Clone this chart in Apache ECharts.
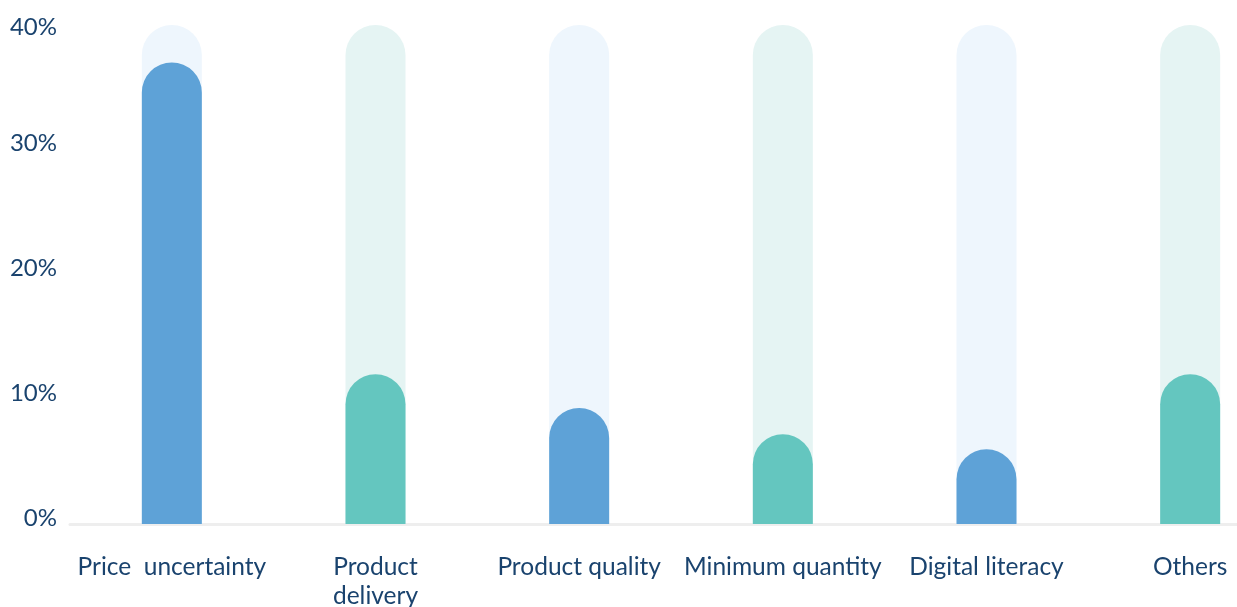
<!DOCTYPE html>
<html>
<head>
<meta charset="utf-8">
<script src="https://cdn.jsdelivr.net/npm/echarts@6/dist/echarts.min.js"></script>
<style>
  html, body { margin: 0; padding: 0; background: #ffffff; }
  #chart { width: 1237px; height: 607px; }
</style>
</head>
<body>
<div id="chart"></div>
<script>
const categories = ['Price  uncertainty', 'Product\ndelivery', 'Product quality', 'Minimum quantity', 'Digital literacy', 'Others'];
const shares = [37, 12, 9.3, 7.2, 6, 12];
const trackValues = [40, 40, 40, 40, 40, 40];
const yTicks = [0, 10, 20, 30, 40];

const barColors = ['#5ea2d7', '#64c6bf'];
const trackColors = ['#eef6fd', '#e5f4f3'];
const textColor = '#1a436e';

const chart = echarts.init(document.getElementById('chart'), null, { renderer: 'canvas' });

chart.setOption({
  animation: false,
  backgroundColor: '#ffffff',
  grid: { left: 70, top: 25, right: -55, bottom: 83, containLabel: false, outerBoundsMode: 'none' },
  xAxis: {
    type: 'category',
    data: categories,
    axisLine: { show: true, lineStyle: { color: '#eeeeee', width: 3 } },
    axisTick: { show: false },
    axisLabel: {
      color: textColor,
      fontFamily: 'Lato',
      fontSize: 24.5,
      lineHeight: 29,
      margin: 29,
      interval: 0
    }
  },
  yAxis: {
    type: 'value',
    min: yTicks[0],
    max: yTicks[yTicks.length - 1],
    interval: 10,
    axisLine: { show: false },
    axisTick: { show: false },
    splitLine: { show: false },
    axisLabel: {
      color: textColor,
      fontFamily: 'Lato',
      fontSize: 24,
      margin: 13,
      verticalAlign: 'bottom',
      verticalAlignMaxLabel: 'top',
      formatter: v => (v === yTicks[yTicks.length - 1] ? '{t|' + v + '%}' : '{b|' + v + '%}'),
      rich: {
        b: { lineHeight: 12, fontSize: 24, fontFamily: 'Lato', color: textColor },
        t: { lineHeight: 4, fontSize: 24, fontFamily: 'Lato', color: textColor }
      }
    }
  },
  series: [
    {
      type: 'bar',
      data: trackValues.map((v, i) => ({ value: v, itemStyle: { color: trackColors[i % 2] } })),
      barWidth: 60,
      barGap: '-100%',
      itemStyle: { borderRadius: [30, 30, 0, 0] },
      silent: true,
      z: 1
    },
    {
      type: 'bar',
      data: shares.map((v, i) => ({ value: v, itemStyle: { color: barColors[i % 2] } })),
      barWidth: 60,
      itemStyle: { borderRadius: [30, 30, 0, 0] },
      z: 2
    }
  ]
});
</script>
</body>
</html>
